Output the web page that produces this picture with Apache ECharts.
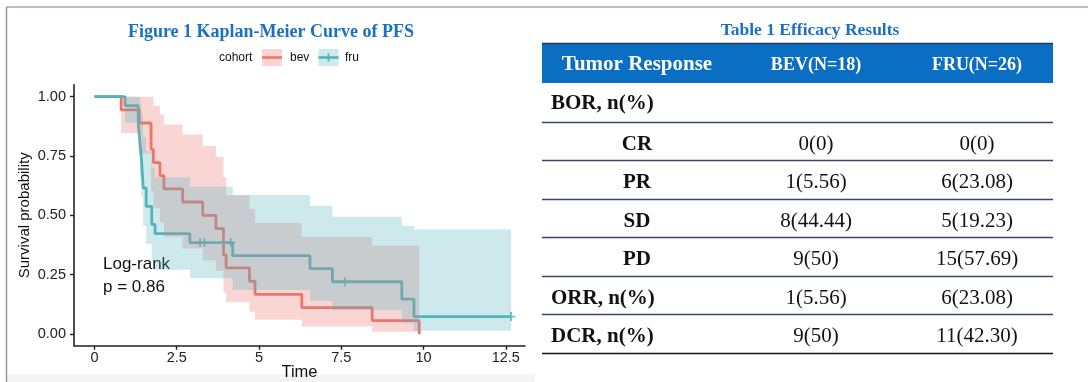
<!DOCTYPE html>
<html><head><meta charset="utf-8">
<script src="https://cdn.jsdelivr.net/npm/echarts@6/dist/echarts.min.js"></script>
<style>html,body{margin:0;padding:0;background:#fff}#c{width:1088px;height:382px}</style>
</head><body><div id="c"></div><script>
// ---------- data ----------
const cohorts = ['bev', 'fru'];
// bev: step times and survival after each step
const bevTime = [0, 0.81, 1.36, 1.72, 1.79, 1.99, 2.11, 2.68, 3.29, 3.69, 3.92, 4.00, 4.71, 4.88, 6.30, 8.44, 9.87];
const bevSurv = [1, 0.944, 0.889, 0.778, 0.722, 0.667, 0.611, 0.556, 0.500, 0.444, 0.333, 0.278, 0.222, 0.167, 0.111, 0.056, 0];
// confidence band per interval [bevTime[i], bevTime[i+1]]
const bevUpper = [1, 1, 1, 1, 0.961, 0.925, 0.883, 0.841, 0.792, 0.746, 0.66, 0.585, 0.527, 0.468, 0.41, 0.373];
const bevLower = [1, 0.847, 0.76, 0.60, 0.53, 0.47, 0.41, 0.36, 0.31, 0.265, 0.175, 0.134, 0.094, 0.06, 0.031, 0.009];
// fru
const fruTime = [0, 0.93, 1.33, 1.38, 1.43, 1.48, 1.57, 1.74, 1.84, 2.90, 4.20, 6.55, 7.23, 9.34, 9.71, 12.66];
const fruSurv = [1, 0.962, 0.885, 0.808, 0.731, 0.615, 0.538, 0.462, 0.423, 0.385, 0.330, 0.275, 0.220, 0.147, 0.073, 0.073];
const fruUpper = [1, 1, 1, 0.97, 0.92, 0.83, 0.77, 0.70, 0.66, 0.62, 0.586, 0.54, 0.494, 0.456, 0.44];
const fruLower = [1, 0.89, 0.77, 0.67, 0.58, 0.455, 0.38, 0.31, 0.27, 0.235, 0.185, 0.14, 0.10, 0.045, 0.013];
const fruCensorTime = [3.21, 3.34, 4.14, 7.61, 12.66];
const fruCensorSurv = [0.385, 0.385, 0.385, 0.220, 0.073];
// axes
const xTickValues = [0, 2.5, 5, 7.5, 10, 12.5];
const xTickLabels = ['0', '2.5', '5', '7.5', '10', '12.5'];
const yTickValues = [0, 0.25, 0.5, 0.75, 1];
const yTickLabels = ['0.00', '0.25', '0.50', '0.75', '1.00'];
const logRankLines = ['Log-rank', 'p = 0.86'];
const figTitle = 'Figure 1 Kaplan-Meier Curve of PFS';
const legendTitle = 'cohort';
// table
const tableTitle = 'Table 1 Efficacy Results';
const tableHeader = ['Tumor Response', 'BEV(N=18)', 'FRU(N=26)'];
const rowLabels = ['BOR, n(%)', 'CR', 'PR', 'SD', 'PD', 'ORR, n(%)', 'DCR, n(%)'];
const bevValues = ['', '0(0)', '1(5.56)', '8(44.44)', '9(50)', '1(5.56)', '9(50)'];
const fruValues = ['', '0(0)', '6(23.08)', '5(19.23)', '15(57.69)', '6(23.08)', '11(42.30)'];

// ---------- styling ----------
const RED = '#EE7469', TEAL = '#4DB5BC';
const RED_F = 'rgba(236,118,112,0.3)', TEAL_F = 'rgba(88,182,192,0.3)';
const SANS = '"Liberation Sans", Arial, sans-serif';
const SERIF = '"Liberation Serif", "Times New Roman", serif';
const BLUE_T = '#1A70C4';
const PLUS = 'path://M-0.22,-1H0.22V-0.22H1V0.22H0.22V1H-0.22V0.22H-1V-0.22H-0.22Z';

function zip(a, b) { return a.map((v, i) => [v, b[i]]); }
function ribbon(times, lower, upper, fill) {
  return function (params, api) {
    const top = [], bot = [];
    for (let i = 0; i < upper.length; i++) {
      top.push(api.coord([times[i], upper[i]]), api.coord([times[i + 1], upper[i]]));
      bot.push(api.coord([times[i], lower[i]]), api.coord([times[i + 1], lower[i]]));
    }
    return { type: 'polygon', shape: { points: top.concat(bot.reverse()) }, style: { fill: fill }, silent: true };
  };
}

const chart = echarts.init(document.getElementById('c'), null, { renderer: 'canvas' });

// graphics: frame, titles, legend, log-rank, table
const g = [];
g.push({ type: 'rect', shape: { x: 7, y: 374, width: 528, height: 8 }, style: { fill: '#f4f4f4' }, z: 0 });
g.push({ type: 'line', shape: { x1: 6, y1: 7, x2: 1088, y2: 7 }, style: { stroke: '#a3a9b4', lineWidth: 1.5 } });
g.push({ type: 'line', shape: { x1: 6.5, y1: 7, x2: 6.5, y2: 382 }, style: { stroke: '#8f9ab0', lineWidth: 1.5 } });
g.push({ type: 'text', style: { text: figTitle, x: 271, y: 32, font: 'bold 18px ' + SERIF, fill: BLUE_T, textAlign: 'center', textVerticalAlign: 'middle' } });
// legend
g.push({ type: 'text', style: { text: legendTitle, x: 219, y: 58, font: '12px ' + SANS, fill: '#111', textAlign: 'left', textVerticalAlign: 'middle' } });
const legX = [262, 318.5], legTX = [290, 345];
cohorts.forEach((c, i) => {
  const col = i === 0 ? RED : TEAL, fill = i === 0 ? RED_F : TEAL_F;
  g.push({ type: 'line', shape: { x1: legX[i], y1: 57.5, x2: legX[i] + 20, y2: 57.5 }, style: { stroke: col, lineWidth: 2.6 } });
  if (i === 1) g.push({ type: 'line', shape: { x1: legX[i] + 10, y1: 53.5, x2: legX[i] + 10, y2: 61.5 }, style: { stroke: col, lineWidth: 1.8 } });
  g.push({ type: 'rect', shape: { x: legX[i], y: 49, width: 20, height: 17 }, style: { fill: fill } });
  g.push({ type: 'text', style: { text: c, x: legTX[i], y: 58, font: '12px ' + SANS, fill: '#111', textAlign: 'left', textVerticalAlign: 'middle' } });
});
logRankLines.forEach((t, i) => {
  g.push({ type: 'text', style: { text: t, x: 103, y: 264 + i * 23.5, font: '17px ' + SANS, fill: '#111', textAlign: 'left', textVerticalAlign: 'middle' } });
});
// table
const tX0 = 542, tX1 = 1053, hTop = 43, hBot = 83, rowH = 38.5;
const colX = [637, 816, 977];
g.push({ type: 'text', style: { text: tableTitle, x: 810, y: 30, font: 'bold 17.5px ' + SERIF, fill: BLUE_T, textAlign: 'center', textVerticalAlign: 'middle' } });
g.push({ type: 'rect', shape: { x: tX0, y: hTop, width: tX1 - tX0, height: hBot - hTop }, style: { fill: '#0A6FC2' } });
g.push({ type: 'line', shape: { x1: tX0, y1: hTop + 0.5, x2: tX1, y2: hTop + 0.5 }, style: { stroke: '#22385f', lineWidth: 1.5 } });
tableHeader.forEach((t, j) => {
  g.push({ type: 'text', style: { text: t, x: colX[j], y: 65, font: 'bold ' + (j === 0 ? 21 : 18) + 'px ' + SERIF, fill: '#fff', textAlign: 'center', textVerticalAlign: 'middle' } });
});
rowLabels.forEach((lab, i) => {
  const cy = hBot + rowH * i + rowH / 2 + (i === 0 ? 1 : 3.5);
  const isGroup = lab.indexOf('n(%)') >= 0;
  g.push({ type: 'text', style: { text: lab, x: isGroup ? 551 : colX[0], y: cy, font: 'bold 21px ' + SERIF, fill: '#111', textAlign: isGroup ? 'left' : 'center', textVerticalAlign: 'middle' } });
  [bevValues[i], fruValues[i]].forEach((v, j) => {
    if (v) g.push({ type: 'text', style: { text: v, x: colX[j + 1], y: cy, font: '21px ' + SERIF, fill: '#111', textAlign: 'center', textVerticalAlign: 'middle' } });
  });
  const ly = Math.round(hBot + rowH * (i + 1)) + 0.5;
  const last = i === rowLabels.length - 1;
  g.push({ type: 'line', shape: { x1: tX0, y1: ly, x2: tX1, y2: ly }, style: { stroke: last ? '#111' : '#34466E', lineWidth: 1.3 } });
});

const option = {
  animation: false,
  backgroundColor: '#fff',
  grid: { left: 74, top: 84.8, width: 451, height: 261, containLabel: false, outerBoundsMode: 'none' },
  xAxis: {
    type: 'value', min: -0.623, max: 13.085,
    axisLine: { show: true, onZero: false, lineStyle: { color: '#222', width: 1.6 } },
    axisTick: { show: true, customValues: xTickValues, length: 4, lineStyle: { color: '#222', width: 1.4 } },
    axisLabel: { customValues: xTickValues, formatter: v => xTickLabels[xTickValues.indexOf(v)], color: '#222', fontSize: 14.5, fontFamily: SANS, margin: 5 },
    splitLine: { show: false },
    name: 'Time', nameLocation: 'middle', nameGap: 18.5, nameMoveOverlap: false,
    nameTextStyle: { fontSize: 16.5, fontFamily: SANS, color: '#111' }
  },
  yAxis: {
    type: 'value', min: -0.05, max: 1.05,
    axisLine: { show: true, onZero: false, lineStyle: { color: '#222', width: 1.6 } },
    axisTick: { show: true, customValues: yTickValues, length: 4, lineStyle: { color: '#222', width: 1.4 } },
    axisLabel: { customValues: yTickValues, formatter: v => yTickLabels[yTickValues.indexOf(v)], color: '#222', fontSize: 14.5, fontFamily: SANS, margin: 8 },
    splitLine: { show: false },
    name: 'Survival probability', nameLocation: 'middle', nameGap: 42,
    nameTextStyle: { fontSize: 15, fontFamily: SANS, color: '#111' }
  },
  series: [
    { name: 'bev', type: 'line', step: 'end', data: zip(bevTime, bevSurv), showSymbol: false, lineStyle: { color: RED, width: 2.8 }, itemStyle: { color: RED }, z: 2, silent: true },
    { name: 'fru', type: 'line', step: 'end', data: zip(fruTime, fruSurv), showSymbol: false, lineStyle: { color: TEAL, width: 2.8 }, itemStyle: { color: TEAL }, z: 2, silent: true },
    { name: 'fru censored', type: 'scatter', data: zip(fruCensorTime, fruCensorSurv), symbol: PLUS, symbolSize: 9, itemStyle: { color: TEAL }, z: 2, silent: true },
    { name: 'bev CI', type: 'custom', data: [[bevTime[0], bevSurv[0]]], renderItem: ribbon(bevTime, bevLower, bevUpper, RED_F), z: 3, silent: true },
    { name: 'fru CI', type: 'custom', data: [[fruTime[0], fruSurv[0]]], renderItem: ribbon(fruTime, fruLower, fruUpper, TEAL_F), z: 3, silent: true }
  ],
  graphic: { elements: g }
};
chart.setOption(option);
</script></body></html>
